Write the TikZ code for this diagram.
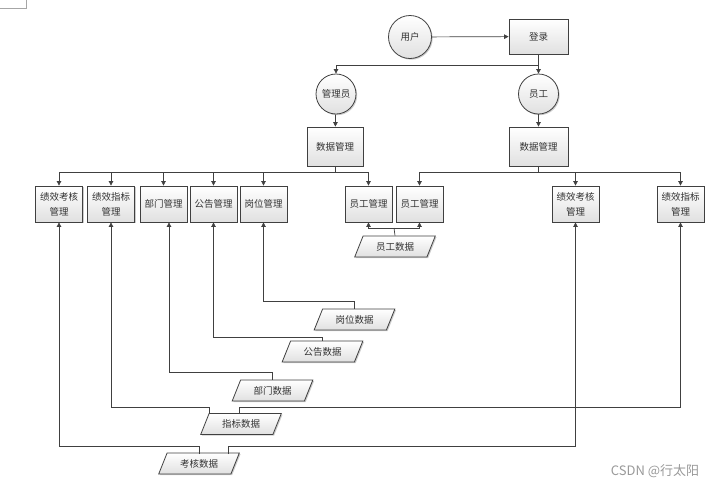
\documentclass[tikz,border=0pt]{standalone}
\usepackage{fontspec}
\newfontfamily\cjk{Noto Sans CJK SC}
\usetikzlibrary{shapes.geometric,arrows.meta,shadows}
\definecolor{lncol}{HTML}{404040}
\definecolor{txcol}{HTML}{333333}
\tikzset{
 base/.style={draw=lncol, line width=0.8pt, top color=white, bottom color=black!12,
   font=\cjk\fontsize{9.5}{15}\selectfont, text=txcol,
   drop shadow={shadow xshift=1.2pt, shadow yshift=-1.2pt, fill=black, opacity=0.2}},
 proc/.style={base, rectangle, minimum width=47pt, minimum height=36pt, inner sep=1pt, align=center},
 circ/.style={base, circle, minimum size=40pt, inner sep=0pt},
 datab/.style={base, trapezium, trapezium left angle=64, trapezium right angle=116,
   trapezium stretches=true, minimum width=81pt, minimum height=21pt, inner sep=1pt},
 wire/.style={draw=lncol, line width=0.7pt},
 arr/.style={wire, -{Triangle[length=4.5pt,width=4.5pt]}},
}
\begin{document}
\begin{tikzpicture}[x=1pt,y=-1pt]
\useasboundingbox (0,0) rectangle (720,488);
\draw[black!35, line width=0.5pt] (0,8) -- (26,8) -- (26,0);

% top
\node[circ, minimum size=43pt] (user) at (410,37) {用户};
\node[proc, minimum width=59pt, minimum height=35pt] (login) at (538.5,36.5) {登录};
\node[circ] (admin) at (336,94) {管理员};
\node[circ] (emp) at (538.5,94) {员工};
\node[proc, minimum width=56pt, minimum height=39pt] (dmL) at (335,146.5) {数据管理};
\node[proc, minimum width=59pt, minimum height=39pt] (dmR) at (538.5,146.5) {数据管理};

% row of modules
\node[proc] (kh1) at (59,204) {绩效考核\\管理};
\node[proc] (zb1) at (111,204) {绩效指标\\管理};
\node[proc] (bm) at (163.5,204) {部门管理};
\node[proc] (gg) at (213.5,204) {公告管理};
\node[proc] (gw) at (263.5,204) {岗位管理};
\node[proc] (yg1) at (368.5,204) {员工管理};
\node[proc] (yg2) at (419.5,204) {员工管理};
\node[proc] (kh2) at (575.5,204) {绩效考核\\管理};
\node[proc] (zb2) at (680.5,204) {绩效指标\\管理};

% data stores
\node[datab] (ygd) at (395,246.5) {员工数据};
\node[datab] (gwd) at (354.5,319.5) {岗位数据};
\node[datab] (ggd) at (322.5,351.5) {公告数据};
\node[datab] (bmd) at (272.5,390.5) {部门数据};
\node[datab] (zbd) at (241,424) {指标数据};
\node[datab] (khd) at (199,463.5) {考核数据};

\node[font=\cjk\fontsize{13}{15}\selectfont, text=black!40] (wm) at (655,471) {CSDN @行太阳};

% top connectors
\draw[arr] (user) -- (login);
\coordinate (j1) at (538.5,65);
\draw[arr] (login) -- (emp);
\draw[arr] (j1) -| (admin.north);
\draw[arr] (admin) -- (dmL);
\draw[arr] (emp) -- (dmR);

% left bus
\coordinate (busL) at (335,172);
\draw[wire] (dmL.south) -- (busL);
\foreach \t in {kh1,zb1,bm,gg,gw,yg1} \draw[arr] (busL) -| (\t.north);
% right bus
\coordinate (busR) at (538.5,172);
\draw[wire] (dmR.south) -- (busR);
\foreach \t in {yg2,kh2,zb2} \draw[arr] (busR) -| (\t.north);

% employee data
\coordinate (je) at (394,228);
\draw[wire] (ygd.north) -- (je);
\draw[arr] (je) -| (yg1.south);
\draw[arr] (je) -| (yg2.south);

% job data
\coordinate (c1) at (263.5,301);
\draw[arr] (gwd.north) |- (c1) -- (gw.south);
% notice data
\coordinate (c2) at (213.5,337);
\draw[arr] (ggd.north) |- (c2) -- (gg.south);
% department data
\coordinate (c3) at (169,372);
\draw[arr] (bmd.north) |- (c3) -- ([xshift=5.5pt]bm.south);

% indicator data
\coordinate (zbL) at (209,414);
\coordinate (zbR) at (239,414);
\coordinate (c4) at (111,407);
\coordinate (c5) at (680.5,407);
\draw[arr] (zbL) |- (c4) -- (zb1.south);
\draw[arr] (zbR) |- (c5) -- (zb2.south);

% assessment data
\coordinate (khL) at (199,454);
\coordinate (khR) at (228,454);
\coordinate (c6) at (59,446);
\coordinate (c7) at (575.5,446);
\draw[arr] (khL) |- (c6) -- (kh1.south);
\draw[arr] (khR) |- (c7) -- (kh2.south);
\end{tikzpicture}
\end{document}
